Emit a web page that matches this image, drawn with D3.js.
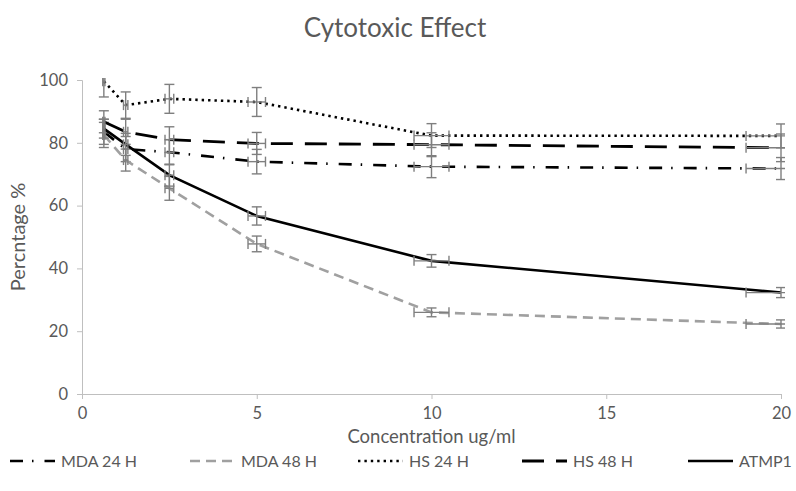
<!DOCTYPE html>
<html>
<head>
<meta charset="utf-8">
<script src="https://cdn.jsdelivr.net/npm/d3@7"></script>
<style>
  body { margin: 0; background: #fff; }
  text { font-family: Lato, "Open Sans", sans-serif; fill: #595959; }
</style>
</head>
<body>
<div id="chart"></div>
<script>
// concentrations (ug/ml)
var concentrations = [0.625, 1.25, 2.5, 5, 10, 20];

var seriesNames = ["MDA 24 H", "MDA 48 H", "HS 24 H", "HS 48 H", "ATMP1"];
var mda24 = [83.5, 78, 77, 74, 72.4, 71.8];
var mda24Err = [4, 4, 4, 3.9, 3.5, 3.5];
var mda48 = [82.5, 74.5, 65.5, 47.8, 26, 22.3];
var mda48Err = [4, 3.5, 3.8, 2.5, 1.4, 1.3];
var hs24 = [99.6, 92, 94, 93, 82.3, 82.2];
var hs24Err = [5, 4.2, 4.6, 4.6, 3.8, 3.8];
var hs48 = [86.7, 83.5, 81, 79.8, 79.4, 78.4];
var hs48Err = [3.5, 4, 4.1, 3.5, 3.8, 4.4];
var atmp1 = [84.5, 79.5, 69.7, 56.7, 42.4, 32.3];
var atmp1Err = [3, 3.5, 3.5, 2.9, 2, 1.6];

var xTicks = [0, 5, 10, 15, 20];
var yTicks = [0, 20, 40, 60, 80, 100];

var width = 796, height = 491;
var margin = {left: 82, right: 15, top: 80, bottom: 97};

var svg = d3.select('#chart').append('svg')
  .attr('width', width).attr('height', height);

var x = d3.scaleLinear().domain([0, 20]).range([margin.left, width - margin.right]);
var y = d3.scaleLinear().domain([0, 100]).range([height - margin.bottom, margin.top]);

// styles per series
var styles = [
  {color: '#000', dash: '13,9,1.5,11', width: 2.6},
  {color: '#a0a0a0', dash: '10,6', width: 2.6},
  {color: '#000', dash: '2.4,4', width: 2.6},
  {color: '#000', dash: '22,12', width: 2.8},
  {color: '#000', dash: null, width: 2.6}
];
var values = [mda24, mda48, hs24, hs48, atmp1];
var errors = [mda24Err, mda48Err, hs24Err, hs48Err, atmp1Err];

// title
svg.append('text').attr('x', width / 2 - 3).attr('y', 37)
  .attr('text-anchor', 'middle').style('font-size', '26px')
  .text('Cytotoxic Effect');

// axes
var yAxis = d3.axisLeft(y).tickValues(yTicks).tickSize(5).tickPadding(9);
var gy = svg.append('g').attr('transform', 'translate(' + x(0) + ',0)').call(yAxis);
var xAxis = d3.axisBottom(x).tickValues(xTicks).tickSize(5).tickPadding(8);
var gx = svg.append('g').attr('transform', 'translate(0,' + y(0) + ')').call(xAxis);
[gx, gy].forEach(function(g) {
  g.select('.domain').attr('stroke', '#bfbfbf');
  g.selectAll('.tick line').attr('stroke', '#bfbfbf');
  g.selectAll('.tick text').style('font-size', '16.5px').attr('fill', '#595959');
});

svg.append('text').attr('x', (x(0) + x(20)) / 2).attr('y', 443)
  .attr('text-anchor', 'middle').style('font-size', '18.5px')
  .text('Concentration ug/ml');
svg.append('text')
  .attr('transform', 'translate(25,' + (y(50)) + ') rotate(-90)')
  .attr('text-anchor', 'middle').style('font-size', '20px')
  .text('Percntage %');

svg.append('clipPath').attr('id', 'plot')
  .append('rect').attr('x', x(0)).attr('y', y(100) - 2)
  .attr('width', x(20) - x(0) + 4).attr('height', y(0) - y(100) + 2);

var plot = svg.append('g').attr('clip-path', 'url(#plot)');

var line = d3.line()
  .x(function(d) { return x(d.c); })
  .y(function(d) { return y(d.v); });

values.forEach(function(vals, s) {
  var data = concentrations.map(function(c, i) {
    return {c: c, v: vals[i], e: errors[s][i]};
  });
  var st = styles[s];
  plot.append('path').datum(data)
    .attr('d', line)
    .attr('fill', 'none')
    .attr('stroke', st.color)
    .attr('stroke-width', st.width)
    .attr('stroke-dasharray', st.dash);

  // error bars (y: sd, x: 5%)
  var eb = plot.append('g').attr('stroke', '#7f7f7f').attr('stroke-width', 1.4).attr('fill', 'none');
  data.forEach(function(d) {
    var cx = x(d.c), cy = y(d.v);
    var y1 = y(d.v + d.e), y2 = y(d.v - d.e);
    eb.append('line').attr('x1', cx).attr('x2', cx).attr('y1', y1).attr('y2', y2);
    eb.append('line').attr('x1', cx - 5).attr('x2', cx + 5).attr('y1', y1).attr('y2', y1);
    eb.append('line').attr('x1', cx - 5).attr('x2', cx + 5).attr('y1', y2).attr('y2', y2);
    var x1 = x(d.c * 0.95), x2 = x(d.c * 1.05);
    eb.append('line').attr('x1', x1).attr('x2', x2).attr('y1', cy).attr('y2', cy);
    eb.append('line').attr('x1', x1).attr('x2', x1).attr('y1', cy - 5).attr('y2', cy + 5);
    eb.append('line').attr('x1', x2).attr('x2', x2).attr('y1', cy - 5).attr('y2', cy + 5);
  });
});

// legend
var legendX = [10, 190, 358, 522, 688];
var legend = svg.append('g');
seriesNames.forEach(function(name, i) {
  var st = styles[i];
  var g = legend.append('g').attr('transform', 'translate(' + legendX[i] + ',467)');
  g.append('line').attr('x1', 0).attr('x2', 45).attr('y1', -6).attr('y2', -6)
    .attr('stroke', st.color).attr('stroke-width', st.width)
    .attr('stroke-dasharray', st.dash);
  g.append('text').attr('x', 51).attr('y', 0).style('font-size', '16px').text(name);
});
</script>
</body>
</html>
